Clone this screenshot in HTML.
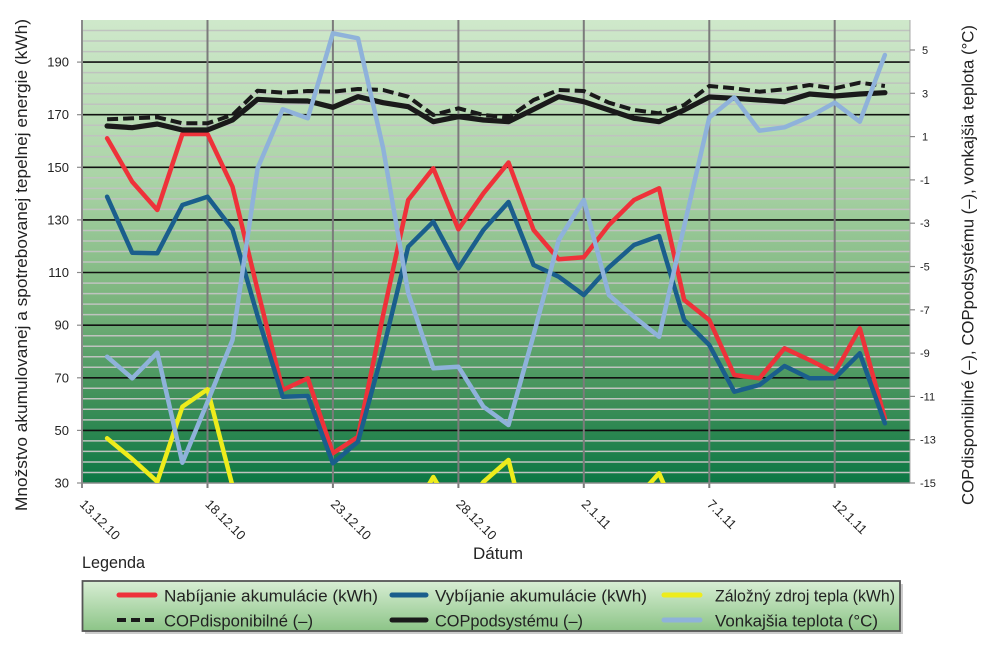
<!DOCTYPE html>
<html>
<head>
<meta charset="utf-8">
<style>
  html, body { margin:0; padding:0; background:#ffffff; }
  body { width:1000px; height:646px; overflow:hidden; }
  svg { display:block; }
  text { font-family: "Liberation Sans", "DejaVu Sans", sans-serif; fill:#222; }
</style>
</head>
<body>
<svg width="1000" height="646" viewBox="0 0 1000 646" xmlns="http://www.w3.org/2000/svg">
  <defs>
    <linearGradient id="bg" x1="0" y1="0" x2="0" y2="1">
      <stop offset="0" stop-color="#cfe8cb"/>
      <stop offset="0.35" stop-color="#a9d3a5"/>
      <stop offset="0.6" stop-color="#7cb57e"/>
      <stop offset="0.82" stop-color="#3f9059"/>
      <stop offset="1" stop-color="#0c7744"/>
    </linearGradient>
    <linearGradient id="lg" x1="0" y1="0" x2="0" y2="1">
      <stop offset="0" stop-color="#d8eed4"/>
      <stop offset="1" stop-color="#8cc487"/>
    </linearGradient>
    <clipPath id="plot"><rect x="82" y="20" width="828" height="463"/></clipPath>
  </defs>

  <!-- plot background -->
  <rect x="82" y="20" width="828" height="463" fill="url(#bg)"/>

  <!-- minor gridlines -->
  <g stroke="#bfc3bf" stroke-width="1.5">
    <line x1="82" x2="910" y1="472.5" y2="472.5"/>
    <line x1="82" x2="910" y1="462" y2="462"/>
    <line x1="82" x2="910" y1="451.4" y2="451.4"/>
    <line x1="82" x2="910" y1="440.9" y2="440.9"/>
    <line x1="82" x2="910" y1="419.9" y2="419.9"/>
    <line x1="82" x2="910" y1="409.3" y2="409.3"/>
    <line x1="82" x2="910" y1="398.8" y2="398.8"/>
    <line x1="82" x2="910" y1="388.3" y2="388.3"/>
    <line x1="82" x2="910" y1="367.3" y2="367.3"/>
    <line x1="82" x2="910" y1="356.7" y2="356.7"/>
    <line x1="82" x2="910" y1="346.2" y2="346.2"/>
    <line x1="82" x2="910" y1="335.7" y2="335.7"/>
    <line x1="82" x2="910" y1="314.6" y2="314.6"/>
    <line x1="82" x2="910" y1="304.1" y2="304.1"/>
    <line x1="82" x2="910" y1="293.6" y2="293.6"/>
    <line x1="82" x2="910" y1="283.1" y2="283.1"/>
    <line x1="82" x2="910" y1="262" y2="262"/>
    <line x1="82" x2="910" y1="251.5" y2="251.5"/>
    <line x1="82" x2="910" y1="241" y2="241"/>
    <line x1="82" x2="910" y1="230.5" y2="230.5"/>
    <line x1="82" x2="910" y1="209.4" y2="209.4"/>
    <line x1="82" x2="910" y1="198.9" y2="198.9"/>
    <line x1="82" x2="910" y1="188.4" y2="188.4"/>
    <line x1="82" x2="910" y1="177.8" y2="177.8"/>
    <line x1="82" x2="910" y1="156.8" y2="156.8"/>
    <line x1="82" x2="910" y1="146.3" y2="146.3"/>
    <line x1="82" x2="910" y1="135.8" y2="135.8"/>
    <line x1="82" x2="910" y1="125.2" y2="125.2"/>
    <line x1="82" x2="910" y1="104.2" y2="104.2"/>
    <line x1="82" x2="910" y1="93.7" y2="93.7"/>
    <line x1="82" x2="910" y1="83.1" y2="83.1"/>
    <line x1="82" x2="910" y1="72.6" y2="72.6"/>
    <line x1="82" x2="910" y1="51.6" y2="51.6"/>
    <line x1="82" x2="910" y1="41" y2="41"/>
    <line x1="82" x2="910" y1="30.5" y2="30.5"/>
  </g>
  <!-- major gridlines -->
  <g stroke="#111" stroke-width="1.6">
    <line x1="82" x2="910" y1="430.4" y2="430.4"/>
    <line x1="82" x2="910" y1="377.8" y2="377.8"/>
    <line x1="82" x2="910" y1="325.2" y2="325.2"/>
    <line x1="82" x2="910" y1="272.5" y2="272.5"/>
    <line x1="82" x2="910" y1="219.9" y2="219.9"/>
    <line x1="82" x2="910" y1="167.3" y2="167.3"/>
    <line x1="82" x2="910" y1="114.7" y2="114.7"/>
    <line x1="82" x2="910" y1="62.1" y2="62.1"/>
  </g>
  <!-- vertical gridlines -->
  <g stroke="#7b7b7b" stroke-width="2">
    <line x1="207.5" x2="207.5" y1="20" y2="488"/>
    <line x1="332.9" x2="332.9" y1="20" y2="488"/>
    <line x1="458.4" x2="458.4" y1="20" y2="488"/>
    <line x1="583.8" x2="583.8" y1="20" y2="488"/>
    <line x1="709.3" x2="709.3" y1="20" y2="488"/>
    <line x1="834.7" x2="834.7" y1="20" y2="488"/>
  </g>
  <!-- axes -->
  <line x1="82" x2="82" y1="20" y2="488" stroke="#8a8a8a" stroke-width="2"/>
  <line x1="910" x2="910" y1="20" y2="483" stroke="#a8a8a8" stroke-width="1"/>
  <line x1="82" x2="910" y1="483" y2="483" stroke="#8a8a8a" stroke-width="1.5"/>
  <g stroke="#8a8a8a" stroke-width="1.2">
    <line x1="77" x2="82" y1="483" y2="483"/>
    <line x1="77" x2="82" y1="430.4" y2="430.4"/>
    <line x1="77" x2="82" y1="377.8" y2="377.8"/>
    <line x1="77" x2="82" y1="325.2" y2="325.2"/>
    <line x1="77" x2="82" y1="272.5" y2="272.5"/>
    <line x1="77" x2="82" y1="219.9" y2="219.9"/>
    <line x1="77" x2="82" y1="167.3" y2="167.3"/>
    <line x1="77" x2="82" y1="114.7" y2="114.7"/>
    <line x1="77" x2="82" y1="62.1" y2="62.1"/>
    <line x1="910" x2="915" y1="50" y2="50"/>
    <line x1="910" x2="915" y1="93.3" y2="93.3"/>
    <line x1="910" x2="915" y1="136.6" y2="136.6"/>
    <line x1="910" x2="915" y1="179.9" y2="179.9"/>
    <line x1="910" x2="915" y1="223.2" y2="223.2"/>
    <line x1="910" x2="915" y1="266.5" y2="266.5"/>
    <line x1="910" x2="915" y1="309.8" y2="309.8"/>
    <line x1="910" x2="915" y1="353.1" y2="353.1"/>
    <line x1="910" x2="915" y1="396.4" y2="396.4"/>
    <line x1="910" x2="915" y1="439.7" y2="439.7"/>
    <line x1="910" x2="915" y1="483" y2="483"/>
  </g>

  <!-- series -->
  <g clip-path="url(#plot)" fill="none" stroke-linejoin="round" stroke-linecap="round">
    <!-- red -->
    <polyline stroke="#ee323a" stroke-width="4.5" points="107.1,138.3 132.2,181.7 157.3,210 182.4,134 207.5,134 232.5,186.7 257.6,290 282.7,390 307.8,378.3 332.9,453.3 358,436.7 383.1,315 408.2,200 433.3,168.3 458.4,229.3 483.4,193.3 508.5,162.5 533.6,230 558.7,259.3 583.8,257.3 608.9,225 634,200 659.1,188.3 684.2,300 709.3,320 734.3,375 759.4,378.3 784.5,348.3 809.6,360 834.7,372.7 859.8,328.3 884.9,418.3"/>
    <!-- blue -->
    <polyline stroke="#1a5e8c" stroke-width="4.5" points="107.1,196.7 132.2,252.7 157.3,253.3 182.4,205 207.5,196.7 232.5,229.3 257.6,316 282.7,396.7 307.8,396 332.9,463.3 358,441.7 383.1,350 408.2,246.7 433.3,221.7 458.4,268.3 483.4,230 508.5,202 533.6,265 558.7,276.7 583.8,295 608.9,267.3 634,245 659.1,236 684.2,320 709.3,345 734.3,391.7 759.4,385 784.5,366 809.6,378.3 834.7,378.3 859.8,353.3 884.9,423.3"/>
    <!-- yellow -->
    <polyline stroke="#eeec1c" stroke-width="4.5" points="107.1,438.3 132.2,459 157.3,481.7 182.4,406.7 207.5,389.3 232.5,486 257.6,560 282.7,570 307.8,570 332.9,570 358,570 383.1,560 408.2,520 433.3,477 458.4,520 483.4,482 508.5,460 533.6,560 558.7,570 583.8,570 608.9,560 634,501 659.1,473.3 684.2,531 709.3,570 734.3,570 759.4,570 784.5,570 809.6,570 834.7,570 859.8,570 884.9,570"/>
    <!-- dashed COPdisponibilne -->
    <polyline stroke="#1a1a1a" stroke-width="4" stroke-linecap="butt" stroke-dasharray="11,5" points="107.1,119.3 132.2,118.3 157.3,117.3 182.4,123.3 207.5,123.3 232.5,115 257.6,90.7 282.7,92.7 307.8,91 332.9,91.7 358,89 383.1,90 408.2,96.7 433.3,115 458.4,108.3 483.4,115 508.5,117.5 533.6,100 558.7,90 583.8,91 608.9,102.7 634,110 659.1,113.3 684.2,105 709.3,86 734.3,88.3 759.4,91.7 784.5,89.3 809.6,85 834.7,88.3 859.8,82.7 884.9,86"/>
    <!-- solid COPpodsystemu -->
    <polyline stroke="#1a1a1a" stroke-width="5.2" points="107.1,126 132.2,127.7 157.3,124 182.4,130 207.5,130 232.5,120 257.6,99.3 282.7,100.7 307.8,101 332.9,107.3 358,96.7 383.1,102.7 408.2,106.7 433.3,121.7 458.4,116.7 483.4,120 508.5,121.7 533.6,109.3 558.7,96.7 583.8,101.7 608.9,110 634,118.3 659.1,121.7 684.2,110 709.3,97 734.3,98.3 759.4,100 784.5,101.7 809.6,94 834.7,96 859.8,94 884.9,92.7"/>
    <!-- light blue temperature -->
    <polyline stroke="#8fb2da" stroke-width="4.5" points="107.1,356.7 132.2,378.3 157.3,352.7 182.4,462.7 207.5,402 232.5,340 257.6,168.3 282.7,109.3 307.8,118.3 332.9,33.3 358,38.3 383.1,148 408.2,293 433.3,368.3 458.4,366.7 483.4,406.7 508.5,425 533.6,335 558.7,240 583.8,200 608.9,295 634,316.7 659.1,336.7 684.2,226 709.3,117.5 734.3,97.3 759.4,130.7 784.5,127.3 809.6,116.7 834.7,102.7 859.8,121.7 884.9,55"/>
  </g>

  <!-- left axis labels -->
  <g font-size="13" text-anchor="end">
    <text x="69" y="487.5">30</text>
    <text x="69" y="434.9">50</text>
    <text x="69" y="382.3">70</text>
    <text x="69" y="329.7">90</text>
    <text x="69" y="277">110</text>
    <text x="69" y="224.4">130</text>
    <text x="69" y="171.8">150</text>
    <text x="69" y="119.2">170</text>
    <text x="69" y="66.6">190</text>
  </g>
  <!-- right axis labels -->
  <g font-size="11">
    <text x="922" y="54">5</text>
    <text x="922" y="97.3">3</text>
    <text x="922" y="140.6">1</text>
    <text x="920" y="183.9">-1</text>
    <text x="920" y="227.2">-3</text>
    <text x="920" y="270.5">-5</text>
    <text x="920" y="313.8">-7</text>
    <text x="920" y="357.1">-9</text>
    <text x="920" y="400.4">-11</text>
    <text x="920" y="443.7">-13</text>
    <text x="920" y="487">-15</text>
  </g>
  <!-- x tick labels -->
  <g font-size="13">
    <text x="79" y="505" transform="rotate(45 79 505)">13.12.10</text>
    <text x="204.5" y="505" transform="rotate(45 204.5 505)">18.12.10</text>
    <text x="330" y="505" transform="rotate(45 330 505)">23.12.10</text>
    <text x="455.4" y="505" transform="rotate(45 455.4 505)">28.12.10</text>
    <text x="580.8" y="505" transform="rotate(45 580.8 505)">2.1.11</text>
    <text x="706.3" y="505" transform="rotate(45 706.3 505)">7.1.11</text>
    <text x="831.7" y="505" transform="rotate(45 831.7 505)">12.1.11</text>
  </g>

  <!-- axis titles -->
  <text font-size="17" x="0" y="0" text-anchor="middle" textLength="492" lengthAdjust="spacingAndGlyphs" transform="translate(27,265) rotate(-90)">Množstvo akumulovanej a spotrebovanej tepelnej energie (kWh)</text>
  <text font-size="17" x="0" y="0" text-anchor="middle" textLength="480" lengthAdjust="spacingAndGlyphs" transform="translate(973.5,265) rotate(-90)">COPdisponibilné (–), COPpodsystému (–), vonkajšia teplota (°C)</text>
  <text font-size="17" x="473" y="559" textLength="50" lengthAdjust="spacingAndGlyphs">Dátum</text>
  <text font-size="17" x="82" y="568" textLength="63" lengthAdjust="spacingAndGlyphs">Legenda</text>

  <!-- legend -->
  <rect x="85" y="584" width="818" height="50" fill="#9a9a9a" opacity="0.5"/>
  <rect x="82.5" y="581" width="817.5" height="50" fill="url(#lg)" stroke="#555" stroke-width="1.8"/>
  <g stroke-width="5" stroke-linecap="round">
    <line x1="119" x2="155" y1="595" y2="595" stroke="#ee323a"/>
    <line x1="392" x2="426" y1="595" y2="595" stroke="#1a5e8c"/>
    <line x1="664" x2="700" y1="595" y2="595" stroke="#eeec1c"/>
    <line x1="392" x2="426" y1="620" y2="620" stroke="#1a1a1a"/>
    <line x1="664" x2="700" y1="620" y2="620" stroke="#8fb2da"/>
  </g>
  <line x1="117" x2="158" y1="620" y2="620" stroke="#1a1a1a" stroke-width="4" stroke-dasharray="9,5"/>
  <g font-size="17">
    <text x="164" y="601.5" textLength="214" lengthAdjust="spacingAndGlyphs">Nabíjanie akumulácie (kWh)</text>
    <text x="435" y="601.5" textLength="212" lengthAdjust="spacingAndGlyphs">Vybíjanie akumulácie (kWh)</text>
    <text x="715" y="601.5" textLength="180" lengthAdjust="spacingAndGlyphs">Záložný zdroj tepla (kWh)</text>
    <text x="164" y="626.5" textLength="149" lengthAdjust="spacingAndGlyphs">COPdisponibilné (–)</text>
    <text x="435" y="626.5" textLength="148" lengthAdjust="spacingAndGlyphs">COPpodsystému (–)</text>
    <text x="715" y="626.5" textLength="163" lengthAdjust="spacingAndGlyphs">Vonkajšia teplota (°C)</text>
  </g>
</svg>
</body>
</html>
